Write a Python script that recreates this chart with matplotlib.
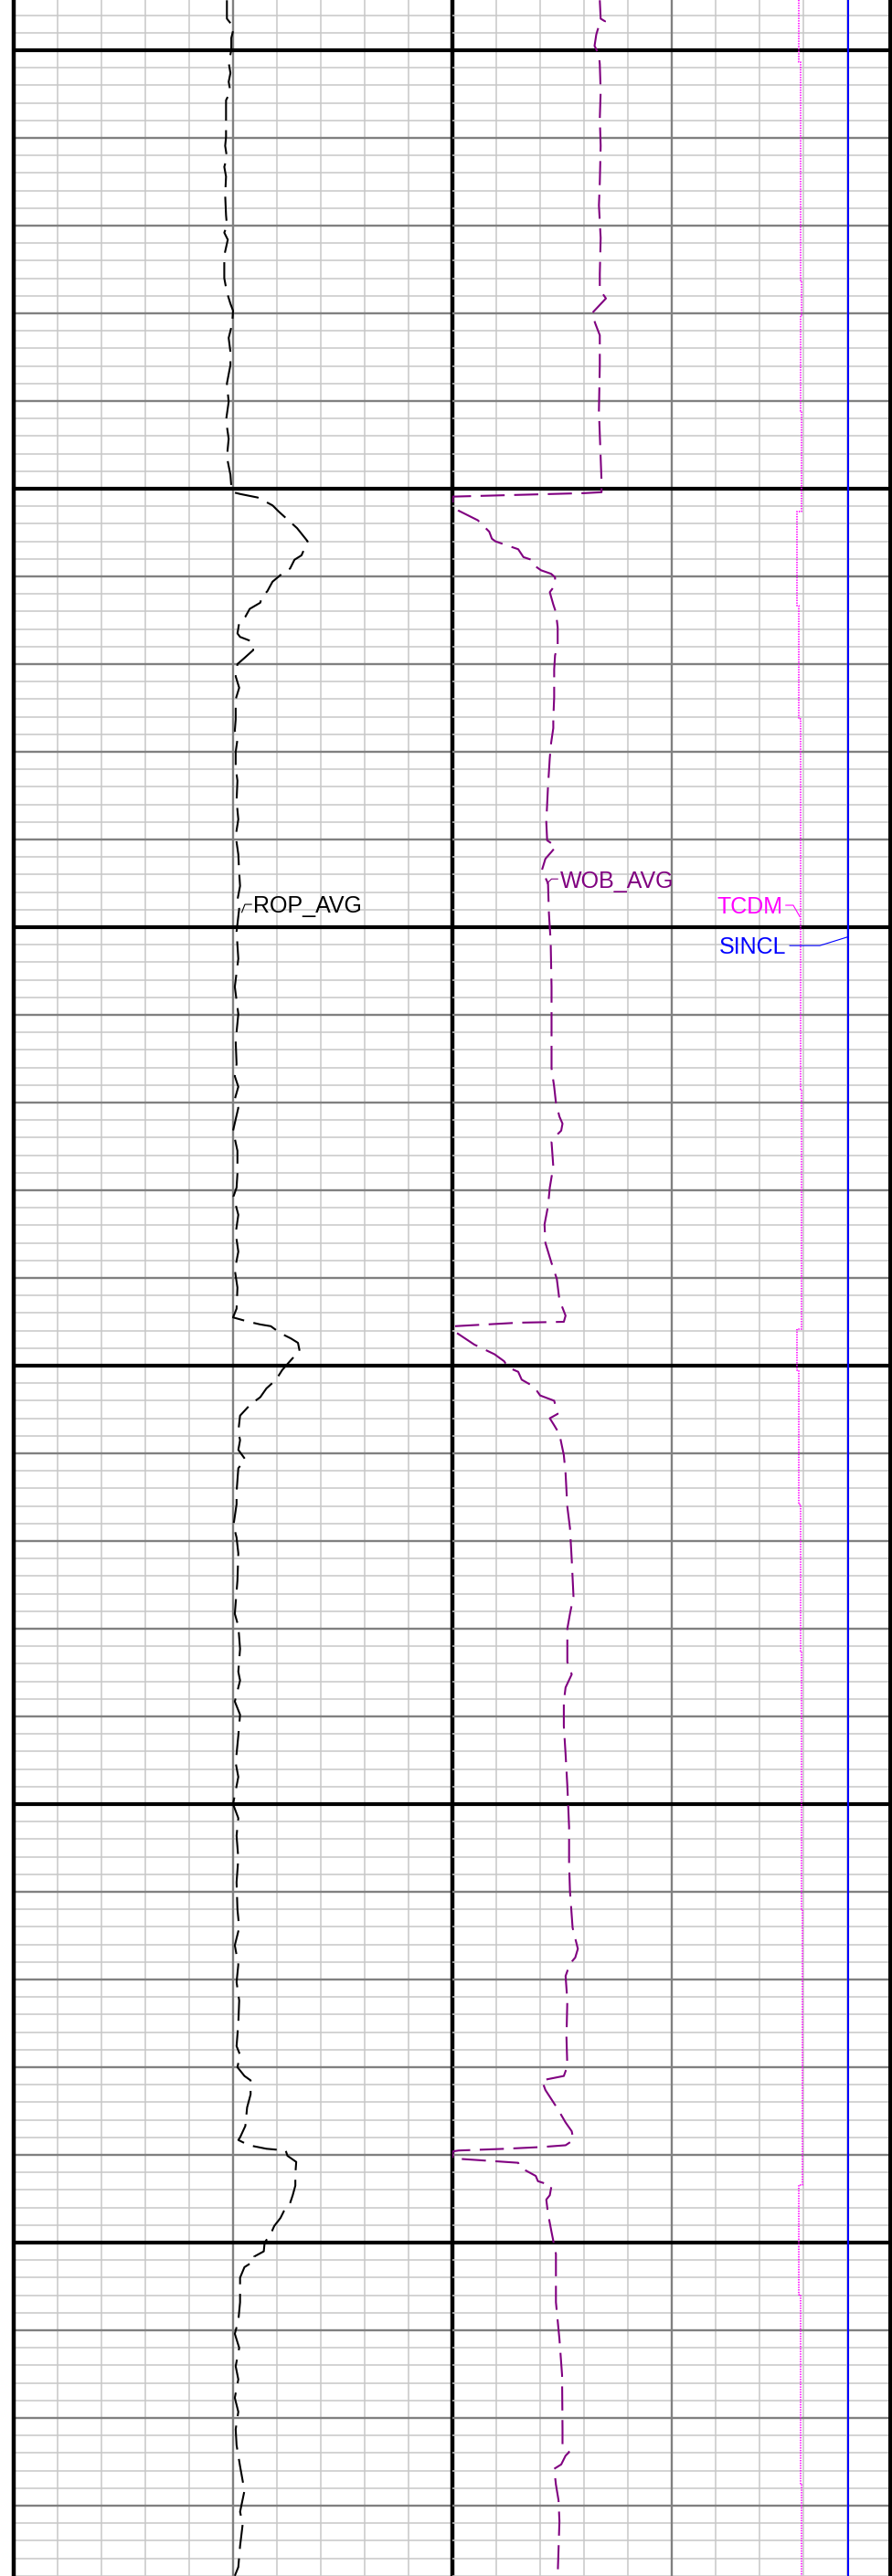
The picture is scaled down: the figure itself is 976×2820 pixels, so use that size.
import matplotlib
matplotlib.use("Agg")
import matplotlib.pyplot as plt
import numpy as np

plt.rcParams['font.family'] = ['Liberation Sans', 'DejaVu Sans']
plt.rcParams['lines.scale_dashes'] = False

# ---------------- data ----------------
DEPTH_TOP = 994.27
DEPTH_BOTTOM = 1288.02

rop_depth = [994.3, 996.4, 997.4, 998.6, 1000.0, 1001.4, 1002.6, 1003.6, 1004.7, 1005.7,
             1009.9, 1010.9, 1012.2, 1013.3, 1014.4, 1016.5, 1018.8, 1020.0, 1020.8, 1021.6,
             1023.4, 1026.0, 1027.6, 1028.9, 1029.7, 1031.2, 1032.8, 1034.4, 1035.9, 1038.0,
             1040.1, 1042.2, 1044.3, 1046.4, 1048.4, 1049.7, 1050.4, 1050.6, 1051.0, 1051.9,
             1052.6, 1054.5, 1055.5, 1056.0, 1057.6, 1058.1, 1059.1, 1059.6, 1060.6, 1061.7,
             1062.3, 1063.0, 1063.7, 1064.6, 1065.3, 1066.5, 1066.9, 1067.4, 1068.4, 1069.3,
             1070.0, 1071.4, 1072.7, 1074.0, 1076.3, 1077.6, 1078.6, 1080.0, 1081.8, 1083.3,
             1085.6, 1087.7, 1089.6, 1091.7, 1093.8, 1095.3, 1096.9, 1097.9, 1100.5, 1103.6,
             1106.8, 1109.9, 1113.0, 1115.6, 1117.0, 1118.2, 1119.6, 1120.6, 1123.2, 1125.5,
             1128.1, 1129.7, 1130.7, 1132.8, 1134.9, 1137.0, 1139.1, 1141.1, 1143.5, 1144.5,
             1145.0, 1145.3, 1145.5, 1146.3, 1146.9, 1147.4, 1148.4, 1148.7, 1149.7, 1150.5,
             1151.6, 1152.6, 1153.6, 1154.4, 1155.7, 1157.5, 1158.5, 1159.6, 1160.7, 1161.7,
             1164.4, 1165.8, 1168.2, 1169.6, 1171.4, 1174.5, 1178.3, 1179.7, 1182.3, 1184.9,
             1185.9, 1188.3, 1189.8, 1192.2, 1195.3, 1196.9, 1200.0, 1201.6, 1203.6, 1206.2,
             1208.9, 1212.0, 1214.1, 1216.1, 1218.3, 1220.3, 1222.4, 1225.0, 1227.6, 1228.6,
             1230.0, 1231.0, 1231.5, 1233.1, 1234.6, 1236.7, 1238.0, 1238.3, 1238.9, 1239.3,
             1239.5, 1240.1, 1240.8, 1242.2, 1243.5, 1244.6, 1245.5, 1246.4, 1247.2, 1248.1,
             1249.0, 1250.0, 1251.0, 1251.6, 1252.1, 1252.8, 1254.0, 1256.8, 1258.9, 1260.4,
             1262.0, 1264.1, 1265.6, 1267.7, 1269.3, 1271.3, 1273.1, 1275.5, 1278.3, 1280.7,
             1282.1, 1284.6, 1287.0, 1288.0]
rop_value = [24.3, 24.3, 25.1, 24.8, 24.8, 24.5, 24.7, 24.5, 24.7, 24.2,
             24.2, 24.1, 24.3, 24.0, 24.2, 24.1, 24.2, 24.3, 24.0, 24.4,
             24.0, 24.0, 24.3, 24.7, 25.0, 24.9, 24.5, 24.7, 24.7, 24.3,
             24.5, 24.2, 24.5, 24.3, 24.7, 24.8, 25.0, 25.8, 27.8, 29.5,
             30.2, 32.3, 33.1, 33.5, 32.8, 32.0, 31.5, 30.7, 29.5, 28.9,
             28.3, 28.1, 26.9, 26.4, 25.7, 25.5, 25.8, 27.1, 27.3, 26.3,
             25.5, 25.3, 25.7, 25.3, 25.3, 25.2, 25.5, 25.3, 25.3, 25.5,
             25.4, 25.6, 25.3, 25.6, 25.7, 25.8, 25.5, 25.7, 25.4, 25.6,
             25.2, 25.6, 25.3, 25.4, 25.2, 25.6, 25.2, 25.6, 25.0, 25.5,
             25.5, 25.4, 25.05, 25.6, 25.3, 25.6, 25.2, 25.5, 25.4, 25.0,
             26.8, 28.1, 29.3, 30.4, 31.6, 32.4, 32.6, 32.2, 31.3, 30.6,
             29.9, 28.8, 28.1, 27.0, 25.8, 25.6, 25.8, 25.6, 26.4, 25.6,
             25.4, 25.4, 25.05, 25.4, 25.6, 25.5, 25.2, 25.6, 25.8, 25.6,
             25.8, 25.2, 25.8, 25.6, 25.3, 25.6, 25.0, 25.6, 25.4, 25.6,
             25.4, 25.5, 25.7, 25.2, 25.6, 25.4, 25.7, 25.6, 25.4, 25.8,
             25.5, 26.3, 27.0, 27.0, 26.6, 26.4, 25.8, 25.6, 26.8, 28.8,
             31.0, 31.2, 32.2, 32.1, 32.1, 31.8, 31.5, 30.8, 30.4, 29.7,
             29.3, 28.6, 28.5, 27.4, 27.4, 26.3, 25.8, 25.8, 25.6, 25.2,
             25.7, 25.3, 25.6, 25.2, 25.6, 25.3, 25.4, 25.8, 26.3, 25.8,
             26.1, 25.8, 25.6, 25.2]

wob_depth = [994.3, 996.4, 996.7, 997.2, 998.2, 999.5, 1000.5, 1001.6, 1004.7, 1007.8,
             1010.9, 1015.1, 1017.7, 1021.4, 1025.5, 1027.3, 1028.3, 1030.0, 1031.2, 1032.5,
             1035.9, 1041.1, 1046.4, 1049.2, 1050.4, 1050.5, 1050.6, 1050.7, 1050.8, 1050.9,
             1051.7, 1052.5, 1053.6, 1054.9, 1055.7, 1056.0, 1056.9, 1057.8, 1058.1, 1058.8,
             1059.3, 1059.7, 1060.1, 1061.0, 1061.8, 1063.2, 1064.1, 1065.8, 1067.9, 1069.0,
             1070.6, 1073.8, 1076.2, 1077.3, 1079.0, 1080.7, 1083.9, 1088.0, 1090.1, 1090.8,
             1091.4, 1092.2, 1093.5, 1095.0, 1098.4, 1101.6, 1106.8, 1114.1, 1116.1, 1118.2,
             1120.0, 1121.6, 1122.4, 1123.2, 1123.6, 1124.5, 1127.3, 1129.7, 1131.8, 1133.9,
             1136.0, 1138.3, 1140.1, 1142.5, 1144.3, 1145.0, 1145.1, 1145.5, 1146.0, 1146.7,
             1147.6, 1148.7, 1149.5, 1150.2, 1150.7, 1151.6, 1152.4, 1153.4, 1154.0, 1155.5,
             1156.0, 1156.8, 1157.8, 1160.2, 1162.3, 1166.1, 1168.5, 1172.1, 1176.3, 1178.3,
             1180.0, 1183.8, 1185.2, 1186.7, 1188.3, 1191.1, 1194.3, 1197.9, 1202.6, 1206.8,
             1209.9, 1214.1, 1216.5, 1217.5, 1218.2, 1219.6, 1222.4, 1226.6, 1229.9, 1231.0,
             1231.5, 1232.6, 1234.6, 1235.1, 1236.3, 1237.3, 1238.3, 1238.9, 1239.1, 1239.3,
             1239.5, 1239.6, 1240.4, 1240.6, 1240.9, 1241.4, 1241.8, 1242.4, 1243.0, 1243.5,
             1244.6, 1245.1, 1246.7, 1248.8, 1251.3, 1256.8, 1258.9, 1261.0, 1265.1, 1271.3,
             1273.1, 1273.9, 1274.3, 1275.3, 1275.8, 1277.6, 1279.4, 1281.8, 1284.9, 1288.0]
wob_value = [16.8, 16.9, 17.4, 16.7, 16.4, 16.2, 16.7, 16.8, 16.9, 16.8,
             16.9, 16.8, 16.7, 16.9, 16.8, 16.8, 17.5, 15.9, 16.3, 16.8,
             16.8, 16.7, 16.9, 17.0, 17.0, 15.1, 11.25, 7.3, 3.3, 0.05,
             0.05, 0.7, 2.9, 4.2, 4.5, 4.9, 7.5, 8.1, 9.0, 9.4,
             10.1, 11.25, 11.7, 11.7, 11.1, 11.5, 11.8, 12.0, 12.0, 11.7,
             11.6, 11.6, 11.5, 11.5, 11.25, 11.1, 10.9, 10.7, 10.8, 11.8,
             11.3, 10.6, 10.2, 10.9, 11.0, 11.2, 11.3, 11.3, 11.3, 11.6,
             11.8, 12.2, 12.55, 12.4, 12.0, 11.3, 11.5, 11.1, 10.9, 10.5,
             10.6, 11.3, 11.9, 12.2, 12.9, 12.7, 7.5, 0.26, 0.1, 1.15,
             2.5, 4.8, 5.9, 6.35, 7.5, 7.9, 9.3, 10.0, 11.6, 12.0,
             11.1, 11.6, 12.2, 12.7, 12.9, 13.1, 13.4, 13.6, 13.8, 13.4,
             13.1, 13.1, 13.6, 12.9, 12.7, 12.7, 12.9, 13.1, 13.3, 13.3,
             13.4, 13.7, 14.3, 14.0, 13.4, 12.9, 13.1, 13.0, 13.1, 12.7,
             10.2, 10.6, 11.9, 12.2, 12.9, 13.6, 13.8, 12.9, 10.2, 6.1,
             0.7, 0.04, 0.04, 3.0, 7.5, 7.7, 8.4, 9.5, 9.75, 11.3,
             11.1, 10.7, 10.9, 11.3, 11.8, 11.8, 12.0, 12.2, 12.5, 12.55,
             12.55, 13.3, 12.9, 12.4, 11.6, 11.8, 12.1, 12.2, 12.1, 12.0]

tcdm_depth = [994.27, 1001.4, 1026.3, 1030.2, 1041.1, 1052.6, 1063.3, 1076.3, 1118.5,
              1145.8, 1150.5, 1165.8, 1182.6, 1212.0, 1243.4, 1255.9, 1277.6, 1288.02]
tcdm_value = [39.5, 39.7, 39.8, 39.7, 39.8, 39.3, 39.5, 39.7, 39.8,
              39.25, 39.5, 39.7, 39.8, 39.9, 39.5, 39.65, 39.8, 39.8]

sincl_depth = [994.27, 1100.0, 1200.0, 1288.02]
sincl_value = [9.02, 9.02, 9.02, 9.02]

track_scale = (0, 50)
sincl_scale = (0, 10)

# ---------------- figure ----------------
W, H = 976, 2820
fig = plt.figure(figsize=(W / 100, H / 100), dpi=100)
fig.patch.set_facecolor('white')

ax1 = fig.add_axes([15 / W, 0, 480 / W, 1])
ax2 = fig.add_axes([495 / W, 0, 480 / W, 1])

LIGHT = '#c8c8c8'
DARK = '#808080'
PURPLE = '#800080'
MAGENTA = '#ff00ff'
BLUE = '#0000ff'

for ax in (ax1, ax2):
    ax.set_xlim(*track_scale)
    ax.set_ylim(DEPTH_BOTTOM, DEPTH_TOP)
    ax.axis('off')
    # horizontal depth grid
    for d in np.arange(996, DEPTH_BOTTOM, 2):
        if int(round(d)) % 50 == 0:
            ax.axhline(d, color='black', lw=3.0, zorder=3)
        elif int(round(d)) % 10 == 0:
            ax.axhline(d, color=DARK, lw=1.7, zorder=2)
        else:
            ax.axhline(d, color=LIGHT, lw=1.1, zorder=1)
    # vertical grid
    for v in range(5, 50, 5):
        if v == 25:
            ax.axvline(v, color=DARK, lw=1.7, zorder=2)
        else:
            ax.axvline(v, color=LIGHT, lw=1.1, zorder=1)

# track borders
ax1.axvline(0, color='black', lw=3.2, zorder=3.5, clip_on=False)
ax1.axvline(50, color='black', lw=3.2, zorder=3.5, clip_on=False)
ax2.axvline(50, color='black', lw=5.0, zorder=3.5, clip_on=False)

DASH = (0, (19, 7.5))

# Track 1: ROP
ax1.plot(rop_value, rop_depth, color='black', lw=1.5, linestyle=DASH, zorder=5)
ax1.plot([26.0, 26.35, 27.1], [1098.3, 1097.4, 1097.4], color='black', lw=0.8, zorder=5)
ax1.text(27.3, 1098.35, 'ROP_AVG', fontsize=18, color='black', ha='left',
         va='baseline', zorder=6)

# Track 2: WOB
ax2.plot(wob_value, wob_depth, color=PURPLE, lw=1.5, linestyle=DASH, zorder=5)
ax2.plot([10.8, 11.3, 12.0], [1095.0, 1094.5, 1094.5], color=PURPLE, lw=0.8, zorder=5)
ax2.text(12.3, 1095.5, 'WOB_AVG', fontsize=18, color=PURPLE, ha='left',
         va='baseline', zorder=6)

# TCDM
ax2.plot(tcdm_value, tcdm_depth, color=MAGENTA, lw=1.2, linestyle=(0, (1, 1)),
         drawstyle='steps-pre', zorder=5)
ax2.plot([38.0, 38.85, 39.6], [1097.5, 1097.5, 1098.8], color=MAGENTA, lw=0.8, zorder=5)
ax2.text(37.7, 1098.45, 'TCDM', fontsize=18, color=MAGENTA, ha='right',
         va='baseline', zorder=6)

# SINCL on its own scale
ax3 = ax2.twiny()
ax3.set_xlim(*sincl_scale)
ax3.set_ylim(DEPTH_BOTTOM, DEPTH_TOP)
ax3.axis('off')
ax3.plot(sincl_value, sincl_depth, color=BLUE, lw=1.5, zorder=5)
ax3.plot([7.69, 8.375, 9.02], [1102.1, 1102.1, 1101.1], color=BLUE, lw=0.8, zorder=5)
ax3.text(7.62, 1103.0, 'SINCL', fontsize=18, color=BLUE, ha='right',
         va='baseline', zorder=6)

fig.savefig('out.png', dpi=100, facecolor='white')
